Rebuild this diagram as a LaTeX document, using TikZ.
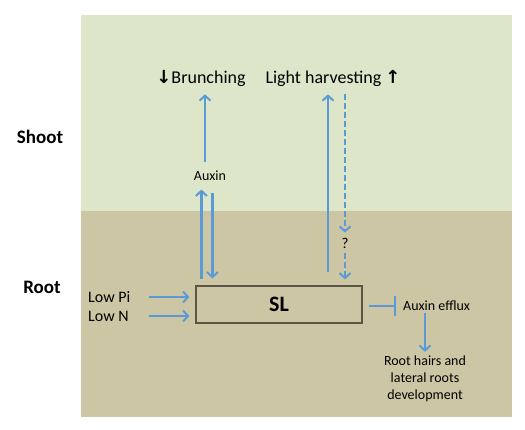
\documentclass[tikz,border=0pt]{standalone}
\usepackage{fontspec}
\setmainfont{Carlito}
\newfontfamily\arrowfont{DejaVu Sans}
\usepackage{tikz}
\usetikzlibrary{positioning,arrows.meta,calc}
\definecolor{shootgreen}{HTML}{DDE6C9}
\definecolor{rootsoil}{HTML}{CDC6A4}
\definecolor{signal}{HTML}{5B9BD5}
\definecolor{boxline}{HTML}{5C5446}

\begin{document}
\begin{tikzpicture}[
      x=1pt, y=-1pt,
      arr/.style={
        draw=signal,
        line width=2.2pt,
        -{Straight Barb[length=5pt,width=11pt,line width=2pt]},
      },
      inh/.style={
        draw=signal,
        line width=2.2pt,
        -{Bar[width=20pt,line width=2.2pt]},
      },
      dash line/.style={dash pattern=on 6pt off 3pt},
      big/.style={font=\fontsize{18}{21}\selectfont, inner sep=1pt},
      mid/.style={font=\fontsize{16}{19}\selectfont, inner sep=0pt},
      small/.style={font=\fontsize{14}{17}\selectfont, inner sep=0pt},
      side/.style={font=\fontsize{19}{22}\selectfont\bfseries},
      slbox/.style={
        rectangle,
        draw=boxline,
        line width=1.2pt,
        minimum width=166pt,
        minimum height=37pt,
        font=\fontsize{22}{24}\selectfont\bfseries,
      }
      ]
      \useasboundingbox (0,0) rectangle (525,430);
      \fill[shootgreen] (81,15) rectangle (512,211);
      \fill[rootsoil] (81,211) rectangle (512,417);

      \node[side] (shoot) at (40,137) {Shoot};
      \node[side] (root) at (42,287) {Root};

      \node[slbox] (sl) at (279,304.5) {SL};
      \node[small] (auxin) at (210,176) {Auxin};
      \node[big] (brunch) at (201,78) {{\arrowfont\bfseries ↓}Brunching};
      \node[big] (light) at (333,78) {Light harvesting {\arrowfont\bfseries ↑}};
      \node[small, inner sep=5pt, font=\fontsize{15}{17}\selectfont] (q) at (345,243) {?};
      \node[mid, anchor=west] (lowpi) at (88,297) {Low Pi};
      \node[mid, anchor=west] (lown) at (88,316) {Low N};
      \node[small, anchor=west] (efflux) at (403,306) {Auxin efflux};
      \node[small, align=center] (roots) at (425,379) {Root hairs and\\lateral roots\\development};

      % shoot side
      \draw[arr, shorten >=8.5pt] ([xshift=6pt,yshift=6pt]sl.north west) -- ([xshift=6pt]sl.north west |- auxin.south);
      \draw[arr] ([xshift=17pt,yshift=-12pt]sl.north west |- auxin.south) -- ([xshift=17pt,yshift=7pt]sl.north west);
      \draw[arr] ([xshift=-5pt,yshift=8.5pt]auxin.north) -- ([xshift=-5pt,yshift=-7pt]auxin.north |- brunch.south);
      \draw[arr] ([xshift=49pt,yshift=13pt]sl.north) -- ([xshift=-5pt,yshift=-7pt]light.south);
      \draw[arr, dash line] ([xshift=12pt,yshift=-7pt]light.south) -- (q.north);
      \draw[arr, dash line] (q.south) -- ([yshift=6pt]sl.north -| q.south);

      % root side
      \draw[arr] ([xshift=-46pt]sl.west |- lowpi.west) -- ([xshift=-6pt]sl.west |- lowpi.west);
      \draw[arr] ([xshift=-46pt]sl.west |- lown.west) -- ([xshift=-6pt]sl.west |- lown.west);
      \draw[inh] ([xshift=6pt]sl.east |- efflux.west) -- ([xshift=-7pt]efflux.west);
      \draw[arr] ([yshift=-2pt]roots.north |- efflux.south) -- ([yshift=4pt]roots.north);
    \end{tikzpicture}
\end{document}
